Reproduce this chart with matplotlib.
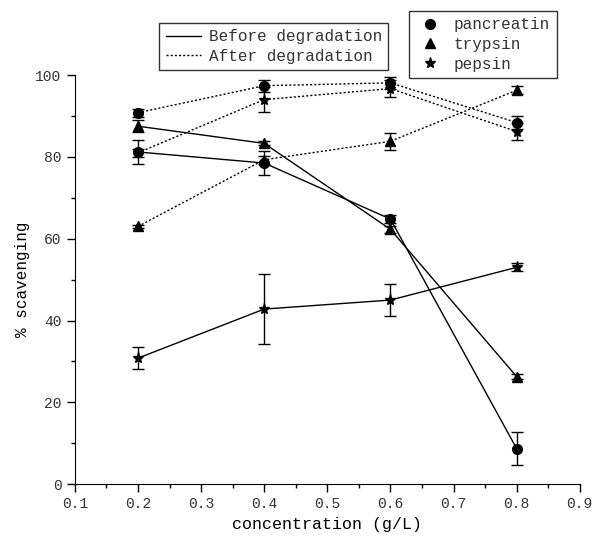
import matplotlib
matplotlib.use("Agg")
import matplotlib.pyplot as plt
from matplotlib.lines import Line2D

plt.rcParams['font.family'] = ['Liberation Mono', 'DejaVu Sans Mono']

conc = [0.2, 0.4, 0.6, 0.8]

# Before degradation
panc_before = [81.2, 78.5, 64.8, 8.7]
panc_before_err = [3.0, 3.0, 1.0, 4.0]
tryp_before = [87.5, 83.3, 62.3, 26.3]
tryp_before_err = [1.5, 0.5, 0.8, 0.6]
peps_before = [30.8, 42.8, 45.0, 53.0]
peps_before_err = [2.7, 8.5, 4.0, 1.0]

# After degradation
panc_after = [90.8, 97.4, 98.1, 88.4]
panc_after_err = [1.0, 1.5, 1.5, 1.5]
tryp_after = [63.0, 79.3, 83.8, 96.3]
tryp_after_err = [0.3, 1.0, 2.0, 1.0]
peps_after = [81.0, 94.0, 96.7, 86.2]
peps_after_err = [1.0, 3.0, 2.0, 2.0]

xticks = [0.1, 0.2, 0.3, 0.4, 0.5, 0.6, 0.7, 0.8, 0.9]
yticks = [0, 20, 40, 60, 80, 100]

fig = plt.figure(figsize=(5.94, 5.44), dpi=100)
ax = fig.add_axes([0.126, 0.110, 0.850, 0.752])

dot = (0, (1.5, 1.5))
series = [
    (panc_before, panc_before_err, 'o', '-', 7),
    (tryp_before, tryp_before_err, '^', '-', 7),
    (peps_before, peps_before_err, '*', '-', 8),
    (panc_after, panc_after_err, 'o', dot, 7),
    (tryp_after, tryp_after_err, '^', dot, 7),
    (peps_after, peps_after_err, '*', dot, 8),
]
for vals, errs, mk, ls, ms in series:
    ax.errorbar(conc, vals, yerr=errs, marker=mk, linestyle=ls, color='black',
                linewidth=1.0, markersize=ms, capsize=4, elinewidth=1.0,
                capthick=1.0, markeredgecolor='black', markerfacecolor='black')

ax.set_xlim(0.1, 0.9)
ax.set_ylim(0, 100)
ax.set_xticks(xticks)
ax.set_xticklabels([f"{v:.1f}" for v in xticks])
ax.set_yticks(yticks)
ax.set_xticks([0.15, 0.25, 0.35, 0.45, 0.55, 0.65, 0.75, 0.85], minor=True)
ax.set_yticks([10, 30, 50, 70, 90], minor=True)
ax.spines['top'].set_visible(False)
ax.spines['right'].set_visible(False)
ax.tick_params(which='major', direction='out', length=6, width=1, labelsize=10.5, colors='black')
ax.tick_params(which='minor', direction='out', length=3, width=1)
for lab in ax.get_xticklabels() + ax.get_yticklabels():
    lab.set_color('#333333')
ax.set_xlabel('concentration (g/L)', fontsize=12, labelpad=4)
ax.set_ylabel('% scavenging', fontsize=11.5, labelpad=4)

h1 = [Line2D([], [], color='black', linestyle='-', linewidth=1.0),
      Line2D([], [], color='black', linestyle=dot, linewidth=1.0)]
leg1 = fig.legend(h1, ['Before degradation', 'After degradation'],
                  loc='upper left', bbox_to_anchor=(0.268, 0.958),
                  fontsize=11.5, frameon=True, fancybox=False,
                  edgecolor='black', borderaxespad=0, handlelength=2.2,
                  handletextpad=0.5, borderpad=0.4, labelspacing=0.3)
leg1.get_frame().set_linewidth(1.0)
for t in leg1.get_texts():
    t.set_color('#333333')

h2 = [Line2D([], [], color='black', marker='o', linestyle='none', markersize=7),
      Line2D([], [], color='black', marker='^', linestyle='none', markersize=7),
      Line2D([], [], color='black', marker='*', linestyle='none', markersize=8)]
leg2 = fig.legend(h2, ['pancreatin', 'trypsin', 'pepsin'],
                  loc='upper left', bbox_to_anchor=(0.689, 0.980),
                  fontsize=11.5, frameon=True, fancybox=False,
                  edgecolor='black', borderaxespad=0, handlelength=1.8,
                  handletextpad=0.6, borderpad=0.4, labelspacing=0.3)
leg2.get_frame().set_linewidth(1.0)
for t in leg2.get_texts():
    t.set_color('#333333')

fig.savefig('out.png', dpi=100)
